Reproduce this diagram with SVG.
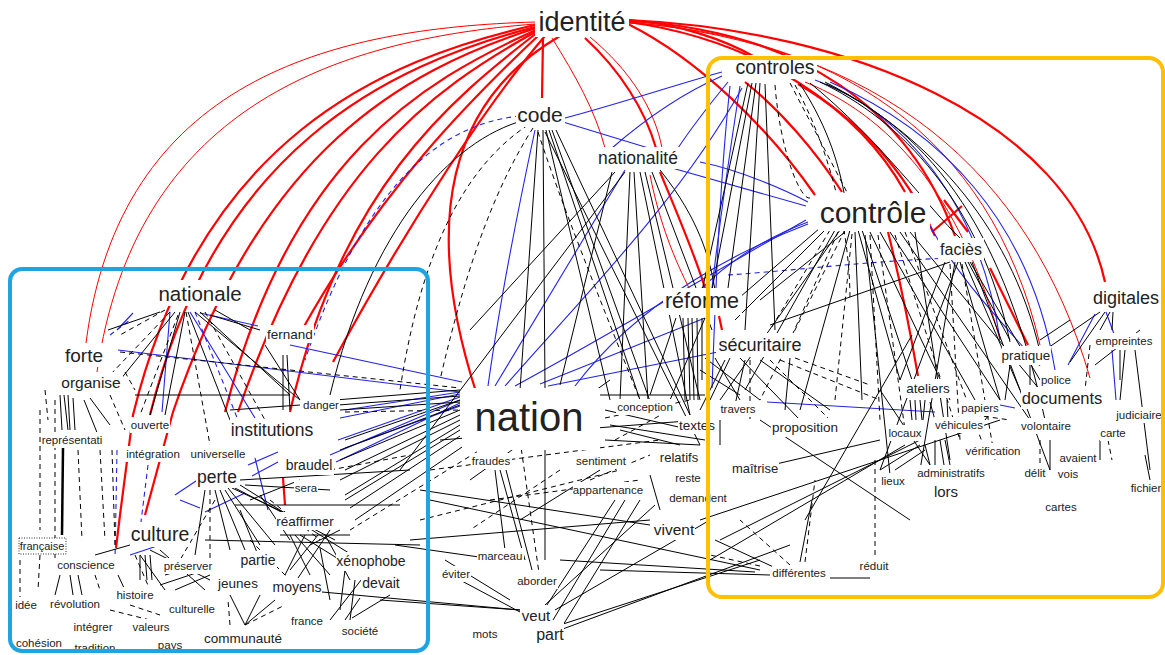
<svg xmlns="http://www.w3.org/2000/svg" width="1165" height="655" viewBox="0 0 1165 655">
<style>
.r{fill:none;stroke:#f00;stroke-width:2.2}
.rt{fill:none;stroke:#f00;stroke-width:1}
.b{fill:none;stroke:#2222ee;stroke-width:1.1}
.bd{fill:none;stroke:#2222ee;stroke-width:1.1;stroke-dasharray:5 4}
.k{fill:none;stroke:#000;stroke-width:1}
.kk{fill:none;stroke:#000;stroke-width:2.5}
.kd{fill:none;stroke:#000;stroke-width:1;stroke-dasharray:5 4}
.bg{fill:#fff}
.box{fill:none;stroke-width:4}
text{font-family:"Liberation Sans",Arial,sans-serif;fill:#222;text-anchor:middle;dominant-baseline:central}
</style>
<rect width="1165" height="655" fill="#fff"/>
<g id="edges">
<path class="rt" d="M535 22 C330 28 120 80 86 343"/>
<path class="rt" d="M535 24 C330 40 135 110 97 372"/>
<path class="r" d="M535 25 C380 60 200 140 133 415 L120 515 L116 548"/>
<path class="r" d="M535 27 C385 66 215 150 150 415"/>
<path class="r" d="M536 28 C400 72 262 150 173 412 L145 515"/>
<path class="r" d="M536 30 C420 82 290 160 225 412"/>
<path class="r" d="M537 31 C430 90 320 170 238 412"/>
<path class="r" d="M538 32 C450 100 340 190 290 412"/>
<path class="r" d="M540 34 C470 100 380 190 302 330"/>
<path class="r" d="M545 36 C490 100 410 220 333 362"/>
<path class="r" d="M560 36 C450 100 420 220 477 395"/>
<path class="r" d="M543 38 L542 98"/>
<path class="rt" d="M552 38 C575 75 595 110 605 148"/>
<path class="r" d="M585 38 C620 70 645 110 656 148"/>
<path class="rt" d="M590 37 C630 70 655 110 662 148"/>
<path class="r" d="M628 20 C680 24 725 40 755 57"/>
<path class="r" d="M628 24 C700 60 770 130 815 195"/>
<path class="r" d="M628 22 C760 40 860 110 905 192"/>
<path class="r" d="M628 21 C800 30 910 110 955 236"/>
<path class="rt" d="M628 23 C830 35 990 130 1040 345"/>
<path class="r" d="M628 20 C850 30 1070 120 1105 282"/>
<path class="rt" d="M628 22 C880 45 1030 170 1090 378"/>
<path class="r" d="M745 82 C780 110 815 150 842 192"/>
<path class="r" d="M798 84 C860 120 905 170 935 236"/>
<path class="rt" d="M805 82 C900 120 965 210 1000 340"/>
<path class="r" d="M660 172 C680 220 695 255 705 288"/>
<path class="rt" d="M650 175 C660 225 675 260 690 290"/>
<path class="r" d="M932 232 L962 206 M944 200 L968 232"/>
<path class="r" d="M888 232 C900 280 910 330 918 376"/>
<path class="r" d="M990 268 L1028 345"/>
<path class="r" d="M283 478 L285 505"/>
<path class="r" d="M719 316 L722 330"/>
<path class="b" d="M565 118 C615 105 675 85 722 72"/>
<path class="b" d="M563 122 L655 150"/>
<path class="b" d="M722 76 C690 90 650 115 612 148"/>
<path class="b" d="M728 82 C705 110 690 130 678 148"/>
<path class="b" d="M672 168 L806 206"/>
<path class="b" d="M700 162 C740 170 785 190 808 202"/>
<path class="b" d="M808 222 C760 240 725 265 700 290"/>
<path class="b" d="M808 224 C740 250 640 300 575 386"/>
<path class="b" d="M535 130 C520 200 500 300 488 386"/>
<path class="b" d="M495 386 L625 170"/>
<path class="b" d="M505 386 C580 300 680 200 742 88"/>
<path class="b" d="M515 386 C600 340 700 280 806 220"/>
<path class="b" d="M540 384 L705 318"/>
<path class="b" d="M548 386 L718 352"/>
<path class="b" d="M740 86 C730 150 720 220 712 288"/>
<path class="b" d="M730 86 C720 180 716 280 712 388"/>
<path class="bd" d="M520 116 C430 125 360 200 305 360"/>
<path class="b" d="M118 350 L460 392"/>
<path class="b" d="M290 345 L462 382"/>
<path class="bd" d="M728 275 C800 270 880 260 955 258"/>
<path class="b" d="M767 402 L935 412"/>
<path class="b" d="M815 80 C900 110 980 200 1000 340"/>
<path class="b" d="M830 82 C940 130 1030 220 1055 370"/>
<path class="b" d="M930 226 C960 280 1000 320 1040 366"/>
<path class="b" d="M1095 314 L1068 365 M1106 312 L1114 334 M1112 350 L1116 400 M1000 405 L1015 408 M1100 432 L1108 432"/>
<path class="b" d="M460 394 L340 418 M460 397 L338 440 M460 400 L330 455 M460 392 L345 410 M460 403 L336 462 M460 406 L345 448"/>
<path class="b" d="M170 312 L162 412 M190 312 L255 418 M200 313 L258 326 M133 313 L117 330 M130 555 L160 545 M175 495 L205 475 M205 512 L245 493 M248 465 L278 452 M252 476 L278 462 M255 458 L268 510 M180 500 L200 508"/>
<path class="bd" d="M195 312 L240 425 M110 335 L130 320 M117 450 L115 560 M148 465 L140 530"/>
<path class="k" d="M525 120 C450 140 370 230 330 395"/>
<path class="kd" d="M528 125 C460 170 420 260 400 390"/>
<path class="kd" d="M533 128 C500 180 470 250 440 380"/>
<path class="k" d="M538 130 L520 390 M543 130 L545 388 M546 130 L610 400 M549 130 L640 400 M552 130 L655 415 M556 130 L690 415 M545 132 L700 445"/>
<path class="kd" d="M538 132 C560 200 600 300 640 400"/>
<path class="k" d="M630 172 L620 400 M634 172 L648 400 M640 172 L690 415 M645 172 L700 400 M652 172 L712 330 M615 172 L470 330 M660 170 C700 220 710 260 715 290 M612 172 L560 385 M625 172 L400 470"/>
<path class="k" d="M748 83 L700 300 M752 83 L710 300 M756 83 L725 310 M760 83 L745 330 M765 84 L775 330 M800 84 C830 130 840 170 845 198 M810 83 C880 140 930 210 960 238 M820 82 C900 120 980 200 1010 342 M825 82 C920 130 1010 220 1040 352 M826 84 C950 140 1010 260 1045 420"/>
<path class="kd" d="M790 83 L850 198 M795 85 C830 150 850 230 850 300 M775 85 C780 150 800 200 810 198"/>
<path class="k" d="M820 228 L725 310 M825 230 L735 320 M835 230 L745 390 M840 230 L720 400 M850 230 L800 410 M858 230 L900 380 M862 230 L912 380 M870 232 L950 400 M880 232 L975 400 M890 232 L1000 400 M900 232 L1030 420 M910 232 L1040 390 M915 232 L950 460 M865 235 L890 475 M855 232 L862 400 M845 232 L760 300"/>
<path class="kd" d="M830 230 L770 330 M845 230 L760 400 M870 235 L880 420 M878 235 L905 430 M838 232 L790 340 M852 234 L835 400 M895 235 L960 440 M905 232 L985 450"/>
<path class="k" d="M950 262 L770 325 M945 262 L900 380 M955 262 L920 470 M960 262 L1000 400 M965 262 L1020 390 M970 262 L1040 380 M972 262 L1050 470 M968 262 L1010 340 M958 262 L880 470"/>
<path class="kd" d="M950 264 L960 440 M962 264 L995 460"/>
<path class="k" d="M805 520 L912 335 M720 540 L920 440 M700 520 L1000 420 M750 470 L880 440 M710 560 L905 445 M760 420 L910 520"/>
<path class="k" d="M800 562 L812 500 M770 575 L600 570 M830 578 L870 578 M755 572 L560 560 M780 570 L715 540"/>
<path class="kd" d="M790 565 L740 520 M805 562 L815 480 M875 555 L875 460 M760 566 L710 555"/>
<path class="k" d="M705 358 L760 400 M715 358 L740 400 M730 358 L710 400 M740 358 L800 420 M760 360 L830 410 M700 370 L740 395 M725 360 L700 410 M745 360 L735 405 M790 358 L785 410 M720 420 L720 445"/>
<path class="kd" d="M770 360 L830 420 M780 360 L880 400 M795 358 L870 385 M750 360 L750 420"/>
<path class="k" d="M683 318 L685 400 M688 318 L690 400 M692 318 L694 400 M697 318 L698 400 M702 318 L702 380 M676 318 L650 395 M705 318 L670 400"/>
<path class="k" d="M605 410 L700 432 M610 425 L705 440 M605 440 L700 445 M620 430 L680 445 M600 395 L705 395"/>
<path class="kd" d="M605 418 L690 400 M615 440 L670 410"/>
<path class="k" d="M495 470 L505 550 M500 470 L525 560 M506 470 L532 570 M545 440 L545 560 M600 470 L520 520 M615 500 L545 608 M625 500 L553 620 M640 500 L560 630 M655 505 L545 605 M650 475 L660 510 M555 610 L710 520 M560 625 L760 560 M560 630 L790 545 M410 540 L650 520 M420 490 L650 525 M430 500 L760 570 M300 590 L520 610 M380 600 L520 610 M395 545 L500 560 M445 560 L510 600 M460 580 L520 612 M440 440 L700 420 M470 480 L610 380"/>
<path class="kd" d="M520 440 L540 580 M560 470 L470 530 M430 470 L660 440 M420 520 L620 470 M490 500 L640 480 M590 480 L650 455"/>
<path class="k" d="M335 400 L460 390 M338 405 L460 396 M340 410 L460 402 M345 440 L460 400 M340 450 L460 405 M340 460 L460 410 M345 470 L460 415 M340 480 L460 420 M345 495 L460 425 M345 500 L460 430 M350 508 L460 436 M355 520 L465 445"/>
<path class="kd" d="M350 530 L480 450 M345 412 L460 410 M120 352 L460 388"/>
<path class="k" d="M160 312 L108 330 M175 312 L120 380 M180 312 L150 415 M185 312 L165 415 M188 312 L230 420 M195 312 L300 400 M200 312 L290 395 M210 315 L260 330 M215 310 L250 330 M135 395 L290 395 M230 410 L300 405 M283 355 L283 410 M287 355 L290 410 M265 345 L300 400 M84 400 L100 440 M90 398 L110 425 M60 395 L62 430 M64 395 L68 430 M68 395 L70 430 M73 398 L75 430"/>
<path class="kk" d="M63 448 L62 535"/>
<path class="kd" d="M165 310 L120 335 M170 312 L110 375 M178 315 L140 415 M186 312 L210 445 M205 312 L265 420 M55 400 L55 560 M40 410 L40 530 M45 390 L48 420 M78 450 L82 540 M100 450 L105 540 M112 450 L115 545 M110 395 L125 430 M125 372 L135 390"/>
<path class="k" d="M215 490 L230 550 M220 490 L245 550 M225 490 L260 545 M228 488 L275 545 M232 488 L300 520 M235 488 L335 540 M240 485 L360 560 M205 490 L195 555 M235 505 L400 505 M205 540 L420 545 M240 510 L260 560 M290 535 L310 575 M295 535 L330 575 M300 535 L340 560 M305 535 L285 575 M318 535 L290 570 M325 535 L350 580 M330 530 L290 590 M280 535 L350 535 M320 548 L330 600 M345 570 L340 610 M355 580 L350 620 M365 575 L330 620 M240 480 L410 470 M245 485 L330 490 M250 500 L300 480 M260 495 L290 540 M310 545 L340 530"/>
<path class="kd" d="M210 490 L210 560 M270 500 L320 540 M250 540 L300 590 M330 470 L410 455 M215 500 L180 560"/>
<path class="k" d="M130 545 L95 555 M60 575 L55 595 M70 575 L73 595 M78 575 L82 595 M118 575 L125 590 M140 555 L140 580 M145 555 L147 580 M150 555 L152 580 M150 550 L210 580 M160 550 L205 590 M140 555 L165 590 M165 575 L200 565 M160 585 L205 570 M175 590 L210 575 M345 620 L360 598 M352 618 L390 595 M245 625 L260 595 M245 625 L275 600 M230 595 L245 625"/>
<path class="kd" d="M95 575 L100 590 M110 610 L150 620 M130 605 L160 615 M135 555 L150 590 M245 625 L285 605 M230 625 L228 600 M20 560 L20 600 M40 555 L38 590"/>
<path class="k" d="M1100 312 L1045 350 M1105 312 L1070 362 M1110 312 L1100 330 M1113 312 L1112 330 M1095 365 L1140 330 M1120 350 L1120 380 M1135 350 L1150 470 M1125 350 L1120 400 M1010 365 L1005 400 M1030 365 L1030 385 M1050 440 L1050 470 M1100 440 L1100 460 M1145 455 L1150 480 M1000 400 L985 420 M910 400 L912 420 M915 400 L916 420 M920 400 L922 420 M925 400 L923 420 M930 402 L935 420 M947 400 L948 420 M935 440 L935 465 M940 440 L944 465 M945 440 L950 465 M925 445 L930 465 M920 445 L880 470 M925 450 L895 470 M880 390 L940 480 M1040 340 L1070 320"/>
<path class="kd" d="M1090 345 L1085 390 M1040 440 L1040 465 M1108 440 L1112 460 M990 455 L1000 445 M975 415 L1010 420"/>
</g>
<g id="nodes">
<g id="n-identite"><rect class="bg" x="535" y="7" width="94" height="30"/><text x="582" y="22" font-size="27">identité</text></g>
<g id="n-controles"><rect class="bg" x="734" y="55" width="83" height="24"/><text x="775" y="67" font-size="19.5">controles</text></g>
<g id="n-code"><rect class="bg" x="516" y="101" width="49" height="26"/><text x="540" y="114" font-size="21">code</text></g>
<g id="n-nationalite"><rect class="bg" x="596" y="147" width="85" height="22"/><text x="638" y="158" font-size="17.5">nationalité</text></g>
<g id="n-controle"><rect class="bg" x="818" y="193" width="112" height="38"/><text x="873" y="212" font-size="30">contrôle</text></g>
<g id="n-facies"><rect class="bg" x="938" y="238" width="46" height="22"/><text x="961" y="249" font-size="16">faciès</text></g>
<g id="n-digitales"><rect class="bg" x="1091" y="286" width="71" height="24"/><text x="1126" y="298" font-size="18">digitales</text></g>
<g id="n-reforme"><rect class="bg" x="663" y="288" width="79" height="27"/><text x="702" y="301" font-size="21.5">réforme</text></g>
<g id="n-securitaire"><rect class="bg" x="716" y="333" width="88" height="24"/><text x="760" y="345" font-size="18">sécuritaire</text></g>
<g id="n-nationale"><rect class="bg" x="156" y="280" width="88" height="26"/><text x="200" y="293" font-size="20.5">nationale</text></g>
<g id="n-fernand"><rect class="bg" x="266" y="325" width="48" height="18"/><text x="290" y="334" font-size="13.5">fernand</text></g>
<g id="n-forte"><rect class="bg" x="64" y="343" width="40" height="24"/><text x="84" y="355" font-size="19">forte</text></g>
<g id="n-organise"><rect class="bg" x="60" y="372" width="63" height="20"/><text x="91" y="382" font-size="15.5">organise</text></g>
<g id="n-danger"><rect class="bg" x="302" y="397" width="38" height="16"/><text x="321" y="405" font-size="11.5">danger</text></g>
<g id="n-nation"><rect class="bg" x="462" y="388" width="138" height="62"/><text x="529" y="417" font-size="40">nation</text></g>
<g id="n-conception"><rect class="bg" x="616" y="399" width="58" height="16"/><text x="645" y="407" font-size="11.5">conception</text></g>
<g id="n-textes"><rect class="bg" x="678" y="416" width="38" height="18"/><text x="697" y="425" font-size="13.5">textes</text></g>
<g id="n-travers"><rect class="bg" x="720" y="401" width="37" height="16"/><text x="738" y="409" font-size="11.5">travers</text></g>
<g id="n-representati"><rect class="bg" x="41" y="432" width="62" height="16"/><text x="72" y="440" font-size="11.5">représentati</text></g>
<g id="n-ouverte"><rect class="bg" x="130" y="417" width="40" height="16"/><text x="150" y="425" font-size="11.5">ouverte</text></g>
<g id="n-institutions"><rect class="bg" x="230" y="419" width="84" height="22"/><text x="272" y="430" font-size="17.5">institutions</text></g>
<g id="n-integration"><rect class="bg" x="125" y="446" width="56" height="16"/><text x="153" y="454" font-size="11.5">intégration</text></g>
<g id="n-universelle"><rect class="bg" x="190" y="446" width="57" height="16"/><text x="218" y="454" font-size="11.5">universelle</text></g>
<g id="n-braudel"><rect class="bg" x="285" y="456" width="49" height="19"/><text x="309" y="465" font-size="14">braudel</text></g>
<g id="n-perte"><rect class="bg" x="196" y="466" width="42" height="22"/><text x="217" y="477" font-size="17.5">perte</text></g>
<g id="n-sera"><rect class="bg" x="294" y="480" width="24" height="16"/><text x="306" y="488" font-size="11.5">sera</text></g>
<g id="n-reaffirmer"><rect class="bg" x="276" y="512" width="58" height="18"/><text x="305" y="521" font-size="13.5">réaffirmer</text></g>
<g id="n-culture"><rect class="bg" x="130" y="522" width="60" height="25"/><text x="160" y="534" font-size="19.5">culture</text></g>
<g id="n-francaise"><rect x="19" y="538" width="47" height="16" fill="#fff" stroke="#000" stroke-width="0.8" stroke-dasharray="1 1.5"/><text x="42" y="546" font-size="11">française</text></g>
<g id="n-conscience"><rect class="bg" x="57" y="557" width="59" height="16"/><text x="86" y="565" font-size="11.5">conscience</text></g>
<g id="n-preserver"><rect class="bg" x="163" y="558" width="51" height="16"/><text x="188" y="566" font-size="11.5">préserver</text></g>
<g id="n-partie"><rect class="bg" x="240" y="551" width="37" height="19"/><text x="258" y="560" font-size="14">partie</text></g>
<g id="n-xenophobe"><rect class="bg" x="336" y="552" width="71" height="19"/><text x="371" y="561" font-size="14">xénophobe</text></g>
<g id="n-jeunes"><rect class="bg" x="218" y="574" width="41" height="19"/><text x="238" y="583" font-size="13.5">jeunes</text></g>
<g id="n-moyens"><rect class="bg" x="272" y="578" width="50" height="19"/><text x="297" y="587" font-size="14">moyens</text></g>
<g id="n-devait"><rect class="bg" x="361" y="574" width="40" height="19"/><text x="381" y="583" font-size="14">devait</text></g>
<g id="n-histoire"><rect class="bg" x="116" y="587" width="39" height="16"/><text x="135" y="595" font-size="11.5">histoire</text></g>
<g id="n-culturelle"><rect class="bg" x="168" y="601" width="48" height="16"/><text x="192" y="609" font-size="11.5">culturelle</text></g>
<g id="n-idee"><rect class="bg" x="15" y="597" width="23" height="16"/><text x="26" y="605" font-size="11.5">idée</text></g>
<g id="n-revolution"><rect class="bg" x="50" y="596" width="51" height="16"/><text x="75" y="604" font-size="11.5">révolution</text></g>
<g id="n-integrer"><rect class="bg" x="73" y="619" width="41" height="16"/><text x="93" y="627" font-size="11.5">intégrer</text></g>
<g id="n-valeurs"><rect class="bg" x="132" y="619" width="39" height="16"/><text x="151" y="627" font-size="11.5">valeurs</text></g>
<g id="n-france"><rect class="bg" x="291" y="613" width="34" height="16"/><text x="307" y="621" font-size="11.5">france</text></g>
<g id="n-societe"><rect class="bg" x="342" y="623" width="38" height="16"/><text x="360" y="631" font-size="11.5">société</text></g>
<g id="n-communaute"><rect class="bg" x="204" y="629" width="78" height="18"/><text x="243" y="638" font-size="13.5">communauté</text></g>
<g id="n-cohesion"><rect class="bg" x="16" y="635" width="48" height="16"/><text x="39" y="643" font-size="11.5">cohésion</text></g>
<g id="n-tradition"><rect class="bg" x="74" y="640" width="43" height="16"/><text x="95" y="648" font-size="11.5">tradition</text></g>
<g id="n-pays"><rect class="bg" x="158" y="637" width="25" height="16"/><text x="170" y="645" font-size="11.5">pays</text></g>
<g id="n-fraudes"><rect class="bg" x="472" y="453" width="40" height="16"/><text x="491" y="461" font-size="11.5">fraudes</text></g>
<g id="n-sentiment"><rect class="bg" x="576" y="453" width="52" height="16"/><text x="601" y="461" font-size="11.5">sentiment</text></g>
<g id="n-relatifs"><rect class="bg" x="660" y="448" width="39" height="18"/><text x="679" y="457" font-size="13">relatifs</text></g>
<g id="n-reste"><rect class="bg" x="675" y="470" width="27" height="16"/><text x="688" y="478" font-size="11.5">reste</text></g>
<g id="n-appartenance"><rect class="bg" x="573" y="482" width="72" height="16"/><text x="608" y="490" font-size="11.5">appartenance</text></g>
<g id="n-demandent"><rect class="bg" x="669" y="490" width="59" height="16"/><text x="698" y="498" font-size="11.5">demandent</text></g>
<g id="n-vivent"><rect class="bg" x="654" y="519" width="41" height="21"/><text x="674" y="529" font-size="15.5">vivent</text></g>
<g id="n-marceau"><rect class="bg" x="477" y="548" width="47" height="16"/><text x="500" y="556" font-size="11.5">marceau</text></g>
<g id="n-eviter"><rect class="bg" x="441" y="566" width="30" height="16"/><text x="456" y="574" font-size="11.5">éviter</text></g>
<g id="n-aborder"><rect class="bg" x="517" y="573" width="41" height="16"/><text x="537" y="581" font-size="11.5">aborder</text></g>
<g id="n-veut"><rect class="bg" x="521" y="605" width="30" height="20"/><text x="536" y="615" font-size="15">veut</text></g>
<g id="n-part"><rect class="bg" x="536" y="623" width="28" height="22"/><text x="550" y="634" font-size="16">part</text></g>
<g id="n-mots"><rect class="bg" x="472" y="626" width="26" height="16"/><text x="485" y="634" font-size="11.5">mots</text></g>
<g id="n-proposition"><rect class="bg" x="771" y="418" width="68" height="19"/><text x="805" y="427" font-size="13.5">proposition</text></g>
<g id="n-maitrise"><rect class="bg" x="731" y="459" width="48" height="18"/><text x="755" y="468" font-size="13">maîtrise</text></g>
<g id="n-ateliers"><rect class="bg" x="906" y="379" width="45" height="19"/><text x="928" y="388" font-size="13.5">ateliers</text></g>
<g id="n-locaux"><rect class="bg" x="888" y="425" width="35" height="16"/><text x="905" y="433" font-size="11.5">locaux</text></g>
<g id="n-papiers"><rect class="bg" x="961" y="400" width="39" height="16"/><text x="980" y="408" font-size="11.5">papiers</text></g>
<g id="n-vehicules"><rect class="bg" x="934" y="417" width="50" height="16"/><text x="959" y="425" font-size="11.5">véhicules</text></g>
<g id="n-lieux"><rect class="bg" x="881" y="473" width="25" height="16"/><text x="893" y="481" font-size="11.5">lieux</text></g>
<g id="n-administratifs"><rect class="bg" x="917" y="465" width="70" height="16"/><text x="951" y="473" font-size="11.5">administratifs</text></g>
<g id="n-lors"><rect class="bg" x="934" y="481" width="25" height="20"/><text x="946" y="491" font-size="15">lors</text></g>
<g id="n-verification"><rect class="bg" x="965" y="443" width="57" height="16"/><text x="993" y="451" font-size="11.5">vérification</text></g>
<g id="n-pratique"><rect class="bg" x="1002" y="346" width="49" height="19"/><text x="1026" y="355" font-size="13.5">pratique</text></g>
<g id="n-police"><rect class="bg" x="1040" y="372" width="32" height="16"/><text x="1056" y="380" font-size="11.5">police</text></g>
<g id="n-documents"><rect class="bg" x="1021" y="387" width="82" height="22"/><text x="1062" y="398" font-size="16.5">documents</text></g>
<g id="n-volontaire"><rect class="bg" x="1020" y="418" width="52" height="16"/><text x="1046" y="426" font-size="11.5">volontaire</text></g>
<g id="n-delit"><rect class="bg" x="1024" y="465" width="23" height="16"/><text x="1035" y="473" font-size="11.5">délit</text></g>
<g id="n-avaient"><rect class="bg" x="1059" y="450" width="39" height="16"/><text x="1078" y="458" font-size="11.5">avaient</text></g>
<g id="n-vois"><rect class="bg" x="1057" y="466" width="22" height="16"/><text x="1068" y="474" font-size="11.5">vois</text></g>
<g id="n-cartes"><rect class="bg" x="1045" y="499" width="33" height="16"/><text x="1061" y="507" font-size="11.5">cartes</text></g>
<g id="n-empreintes"><rect class="bg" x="1095" y="333" width="59" height="16"/><text x="1124" y="341" font-size="11.5">empreintes</text></g>
<g id="n-judiciaire"><rect class="bg" x="1116" y="407" width="47" height="16"/><text x="1139" y="415" font-size="11.5">judiciaire</text></g>
<g id="n-carte"><rect class="bg" x="1100" y="425" width="27" height="16"/><text x="1113" y="433" font-size="11.5">carte</text></g>
<g id="n-fichier"><rect class="bg" x="1130" y="480" width="32" height="16"/><text x="1146" y="488" font-size="11.5">fichier</text></g>
<g id="n-differentes"><rect class="bg" x="772" y="565" width="56" height="16"/><text x="799" y="573" font-size="11.5">différentes</text></g>
<g id="n-reduit"><rect class="bg" x="859" y="558" width="31" height="16"/><text x="874" y="566" font-size="11.5">réduit</text></g>
</g>
<g id="groups">
<rect class="box" x="10" y="269" width="418" height="382" rx="12" stroke="#1ea4e0"/>
<rect class="box" x="708" y="58" width="455" height="539" rx="14" stroke="#ffc000"/>
</g>
</svg>
